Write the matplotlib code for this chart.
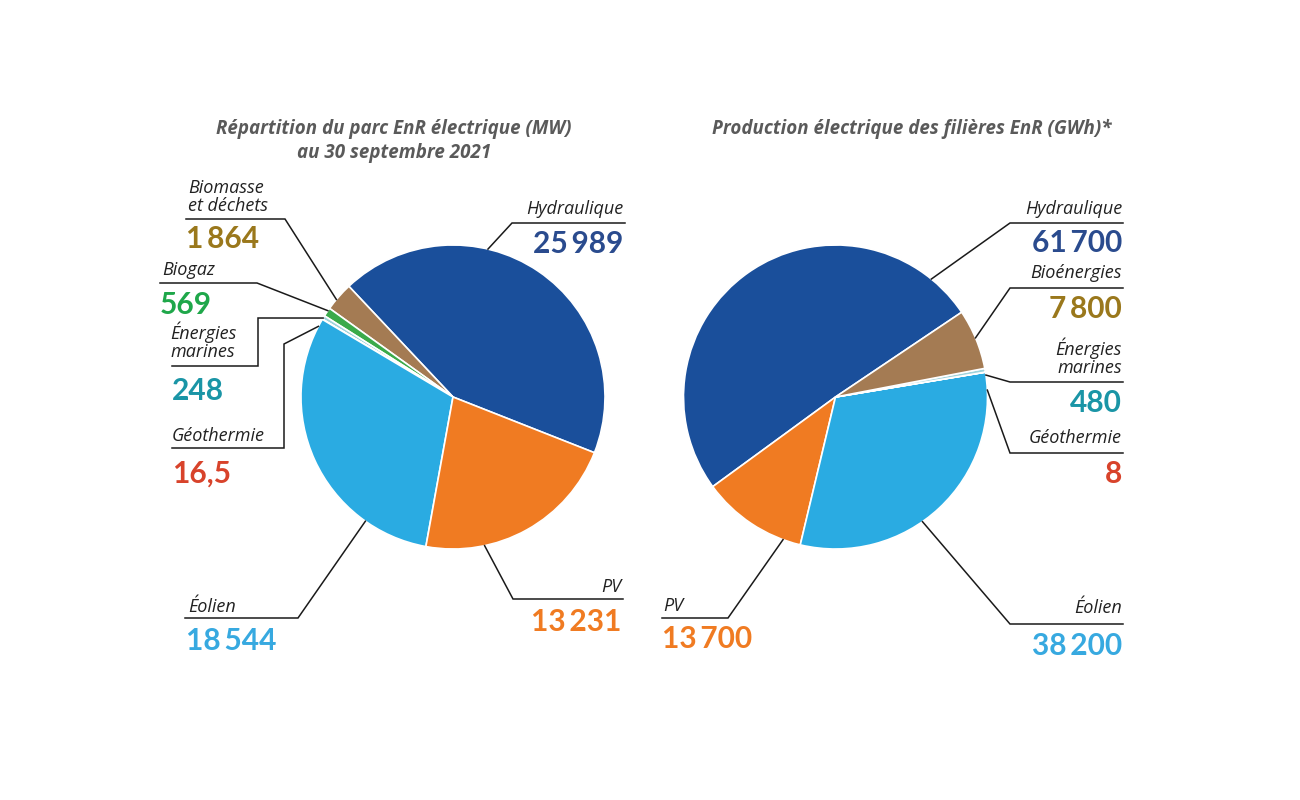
import numpy as np
import matplotlib
matplotlib.use('Agg')
import matplotlib.pyplot as plt

plt.rcParams['font.family'] = ['Lato', 'DejaVu Sans']

# left pie: installed capacity (MW), 30 Sept 2021
left_names = ['Hydraulique', 'Biomasse\net déchets', 'Biogaz', 'Énergies\nmarines', 'Géothermie', 'Éolien', 'PV']
left_values = [25989, 1864, 569, 248, 16.5, 18544, 13231]
left_labels = ['25\u2009989', '1\u2009864', '569', '248', '16,5', '18\u2009544', '13\u2009231']

# right pie: production (GWh)
right_names = ['Hydraulique', 'PV', 'Éolien', 'Géothermie', 'Énergies\nmarines', 'Bioénergies']
right_values = [61700, 13700, 38200, 8, 480, 7800]
right_labels = ['61\u2009700', '13\u2009700', '38\u2009200', '8', '480', '7\u2009800']

wedge_col = {'Hydraulique': '#1a4f9b', 'Éolien': '#2aabe2', 'PV': '#f07b22',
             'Biomasse\net déchets': '#a47b53', 'Bioénergies': '#a47b53',
             'Biogaz': '#3aaa4a', 'Énergies\nmarines': '#9fd3dc', 'Géothermie': '#e0503a'}
num_col = {'Hydraulique': '#2a4b8e', 'Éolien': '#37a9e0', 'PV': '#f07b22',
           'Biomasse\net déchets': '#9a781c', 'Bioénergies': '#9a781c',
           'Biogaz': '#1fa74a', 'Énergies\nmarines': '#1a95a6', 'Géothermie': '#d8432b'}

# label layout: anchor angle on pie, leader knots, name pos, number pos, alignment
left_layout = {
    'Hydraulique': (76.7, [(512, 223), (625, 223)], (623, 214), (623, 253), 'right'),
    'Biomasse\net déchets': (140.1, [(285, 219), (186, 219)], (188, 211), (186, 248), 'left'),
    'Biogaz': (145.4, [(257, 283), (160, 283)], (162, 275), (160, 314), 'left'),
    'Énergies\nmarines': (148.7, [(258, 318), (258, 366), (172, 366)], (170, 357), (172, 400), 'left'),
    'Géothermie': (152.3, [(284, 344), (284, 448), (172, 448)], (172, 441), (172, 483), 'left'),
    'Éolien': (234.8, [(298, 618), (185, 618)], (188, 612), (186, 650), 'left'),
    'PV': (282.0, [(513, 599), (623, 599)], (621, 592), (621, 631), 'right'),
}
right_layout = {
    'Hydraulique': (50.9, [(1010, 223), (1123, 223)], (1122, 214), (1122, 252), 'right'),
    'Bioénergies': (22.9, [(1010, 288), (1123, 288)], (1122, 278), (1122, 318), 'right'),
    'Énergies\nmarines': (8.3, [(1010, 382), (1123, 382)], (1122, 373), (1122, 412), 'right'),
    'Géothermie': (2.6, [(1010, 453), (1123, 453)], (1122, 443), (1122, 483), 'right'),
    'PV': (249.8, [(728, 618), (662, 618)], (663, 611), (662, 648), 'left'),
    'Éolien': (304.9, [(1010, 624), (1123, 624)], (1122, 613), (1122, 655), 'right'),
}

fig = plt.figure(figsize=(13, 8), dpi=100)
ax = fig.add_axes([0, 0, 1, 1])

name_font = ['Open Sans', 'DejaVu Sans']


def draw_pie(names, values, labels, layout, center, radius, start):
    ax.pie(values, colors=[wedge_col[n] for n in names], startangle=-start,
           counterclock=False, center=center, radius=radius,
           wedgeprops=dict(edgecolor='white', linewidth=1.2))
    for name, lab in zip(names, labels):
        ang, knots, npos, vpos, ha = layout[name]
        a = np.radians(ang)
        anchor = (center[0] + radius * np.cos(a), center[1] - radius * np.sin(a))
        pts = [anchor] + knots
        ax.plot([p[0] for p in pts], [p[1] for p in pts], color='#1a1a1a', lw=1.1,
                solid_joinstyle='miter')
        ax.text(npos[0], npos[1], name, ha=ha, va='baseline', fontsize=13,
                style='italic', color='#222222', linespacing=1.02,
                multialignment=ha, family=name_font)
        ax.text(vpos[0], vpos[1], lab, ha=ha, va='baseline', fontsize=21.5,
                fontweight='bold', color=num_col[name])


draw_pie(left_names, left_values, left_labels, left_layout, (453, 397), 152, -21.5)
draw_pie(right_names, right_values, right_labels, right_layout, (835.5, 397), 152, 33.9)

title_kw = dict(ha='center', va='baseline', fontsize=13.5, style='italic',
                fontweight='bold', color='#5a5a5a', family=name_font)
ax.text(394, 134, 'Répartition du parc EnR électrique (MW)', **title_kw)
ax.text(394, 158, 'au 30 septembre 2021', **title_kw)
ax.text(912, 134, 'Production électrique des filières EnR (GWh)*', **title_kw)

ax.set_xlim(0, 1300)
ax.set_ylim(800, 0)
ax.set_aspect('equal')
ax.axis('off')

fig.savefig('out.png', dpi=100, facecolor='white')
